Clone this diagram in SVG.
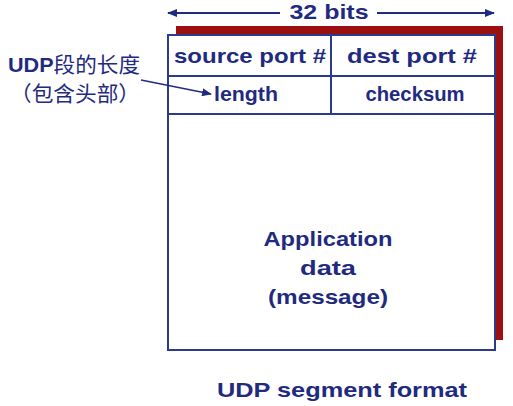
<svg xmlns="http://www.w3.org/2000/svg" width="513" height="406" viewBox="0 0 513 406">
<style>
.t{font-family:"Liberation Sans","DejaVu Sans",sans-serif;font-weight:bold;fill:#1f2b80;font-size:21px;text-anchor:middle}
.c{font-family:"Noto Sans CJK SC",sans-serif;font-weight:normal;fill:#1f2b80;font-size:21px}
.ln{stroke:#2a3a8c;stroke-width:2}
</style>
<defs>
<marker id="ah" markerWidth="10" markerHeight="8" refX="9" refY="4" orient="auto" markerUnits="userSpaceOnUse">
<path d="M0,0 L10,4 L0,8 Z" fill="#1f2b80"/>
</marker>
</defs>
<rect width="513" height="406" fill="#fff"/>
<g id="shadow"><rect x="176" y="26" width="327" height="314" fill="#9b1111"/></g>
<g id="segment">
<rect x="168" y="35" width="327" height="315" fill="#ffffff" class="ln"/>
<line x1="168" y1="76" x2="495" y2="76" class="ln"/>
<line x1="168" y1="114" x2="495" y2="114" class="ln"/>
<line x1="331" y1="35" x2="331" y2="114" class="ln"/>
</g>
<g id="fields">
<text class="t" x="250" y="63" textLength="152" lengthAdjust="spacingAndGlyphs">source port #</text>
<text class="t" x="412" y="63" textLength="130" lengthAdjust="spacingAndGlyphs">dest port #</text>
<text class="t" x="246" y="101" textLength="64" lengthAdjust="spacingAndGlyphs">length</text>
<text class="t" x="415" y="101" textLength="99" lengthAdjust="spacingAndGlyphs">checksum</text>
<text class="t" x="328" y="246" textLength="129" lengthAdjust="spacingAndGlyphs">Application</text>
<text class="t" x="328" y="275" textLength="56" lengthAdjust="spacingAndGlyphs">data</text>
<text class="t" x="328" y="304" textLength="120" lengthAdjust="spacingAndGlyphs">(message)</text>
</g>
<g id="width-label">
<text class="t" x="329" y="19" textLength="79" lengthAdjust="spacingAndGlyphs">32 bits</text>
</g>
<g id="connectors">
<line x1="280" y1="13" x2="168" y2="13" stroke="#1f2b80" stroke-width="2" marker-end="url(#ah)"/>
<line x1="377" y1="13" x2="494" y2="13" stroke="#1f2b80" stroke-width="2" marker-end="url(#ah)"/>
<line x1="141" y1="80" x2="211" y2="94" stroke="#1f2b80" stroke-width="1.5" marker-end="url(#ah)"/>
</g>
<g id="note">
<text class="c" x="8" y="72" textLength="132" lengthAdjust="spacingAndGlyphs"><tspan font-family="Liberation Sans" font-weight="bold">UDP</tspan>段的长度</text>
<text class="c" x="10" y="101" textLength="130" lengthAdjust="spacingAndGlyphs">（包含头部）</text>
</g>
<text class="t" x="342" y="397" textLength="250" lengthAdjust="spacingAndGlyphs">UDP segment format</text>
</svg>
